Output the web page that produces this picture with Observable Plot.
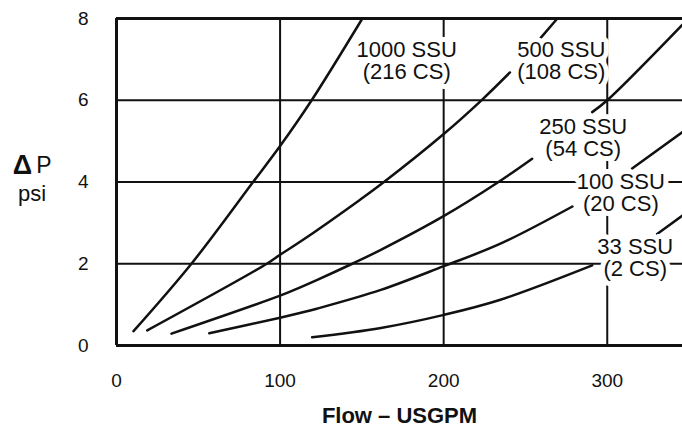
<!DOCTYPE html>
<html>
<head>
<meta charset="utf-8">
<script src="https://cdn.jsdelivr.net/npm/d3@7"></script>
<script src="https://cdn.jsdelivr.net/npm/@observablehq/plot@0.6"></script>
<style>
  html, body { margin: 0; padding: 0; background: #fff; }
  #chart svg { display: block; }
</style>
</head>
<body>
<div id="chart"></div>
<script>
// ---- data ----
const series = ["1000 SSU", "500 SSU", "250 SSU", "100 SSU", "33 SSU"];
const centistokes = ["(216 CS)", "(108 CS)", "(54 CS)", "(20 CS)", "(2 CS)"];

// Flow (USGPM) and pressure drop (psi) along each curve; NaN marks where a label hides the curve
const flow1000 = [10.4, 45.8, 83.5, 100, 119.3, 150.3];
const dp1000   = [0.35, 2.0, 4.0, 4.88, 6.0, 8.0];

const flow500 = [18.8, 91.9, 100, 112.7, 148.3, 163.5, 200.2, 222.6, 240.5, 249, 258.8, 269.5];
const dp500   = [0.37, 2.0, 2.22, 2.55, 3.55, 4.0, 5.18, 5.98, 6.68, NaN, 7.50, 8.0];

const flow250 = [33.6, 100, 112.7, 122.4, 144.1, 161.6, 200.2, 233.5, 254.1, 270, 290.8, 300, 346];
const dp250   = [0.29, 1.22, 1.43, 1.60, 2.0, 2.34, 3.17, 4.0, 4.57, NaN, 5.71, 6.0, 7.85];

const flow100 = [56.7, 100, 112.7, 122.4, 161.6, 200, 234.7, 278.7, 295, 315.2, 346];
const dp100   = [0.30, 0.68, 0.80, 0.90, 1.36, 1.94, 2.49, 3.40, NaN, 4.33, 5.22];

const flow33 = [119.6, 161.6, 200.2, 234.7, 290.8, 310, 330.5, 346];
const dp33   = [0.20, 0.43, 0.75, 1.12, 1.96, NaN, 2.73, 3.18];

// label anchor (centre of the two-line label) in data units
const labelFlow = [177.4, 271.9, 285.3, 308.3, 317.1];
const labelDp   = [6.96, 6.96, 5.08, 3.74, 2.13];

const flowTicks = [0, 100, 200, 300];
const dpTicks = [0, 2, 4, 6, 8];
const flowDomain = [0, 346];
const dpDomain = [0, 8];

const xTitle = ["Flow – USGPM"];
const yTitleDelta = ["Δ"];
const yTitleP = ["P"];
const yTitleUnit = ["psi"];

// ---- tables built from the arrays ----
const curveFlows = [flow1000, flow500, flow250, flow100, flow33];
const curveDps = [dp1000, dp500, dp250, dp100, dp33];
const rows = [];
series.forEach((s, i) => {
  curveFlows[i].forEach((f, j) => rows.push({series: s, flow: f, dp: curveDps[i][j]}));
});
const labels = series.map((s, i) => ({text: s + "\n" + centistokes[i], flow: labelFlow[i], dp: labelDp[i]}));

const FONT = "'Liberation Sans', Arial, Helvetica, sans-serif";

const chart = Plot.plot({
  width: 682,
  height: 427,
  marginLeft: 116,
  marginRight: 0,
  marginTop: 18,
  marginBottom: 82,
  style: {fontFamily: FONT, fontSize: "19px", color: "#111", background: "#fff"},
  x: {domain: flowDomain, ticks: flowTicks, tickSize: 0, tickPadding: 28, label: null},
  y: {domain: dpDomain, ticks: dpTicks, tickSize: 0, tickPadding: 28, label: null},
  marks: [
    // grid
    Plot.ruleX(flowTicks.filter(d => d > 0), {stroke: "#111", strokeWidth: 2}),
    Plot.ruleY(dpTicks.filter(d => d > 0 && d < 8), {stroke: "#111", strokeWidth: 2}),
    // frame (left, bottom, top)
    Plot.ruleX([flowDomain[0]], {stroke: "#111", strokeWidth: 3}),
    Plot.ruleY([dpDomain[0], dpDomain[1]], {stroke: "#111", strokeWidth: 3}),
    // viscosity curves
    Plot.line(rows, {x: "flow", y: "dp", z: "series", curve: "catmull-rom", stroke: "#111", strokeWidth: 2.5}),
    // curve labels with white knockout
    Plot.text(labels, {
      x: "flow", y: "dp", text: "text",
      fontSize: 22, lineHeight: 1, fill: "#111",
      stroke: "white", strokeWidth: 10, strokeLinejoin: "round", paintOrder: "stroke",
      textAnchor: "middle", lineAnchor: "middle"
    }),
    // axis titles
    Plot.text(xTitle, {text: d => d, frameAnchor: "bottom", lineAnchor: "bottom", dy: 77, fontSize: 22, fontWeight: "bold", fill: "#111"}),
    Plot.text(yTitleDelta, {text: d => d, frameAnchor: "left", lineAnchor: "bottom", textAnchor: "middle", dx: -94, dy: -8, fontSize: 27, fontWeight: "bold", fill: "#111"}),
    Plot.text(yTitleP, {text: d => d, frameAnchor: "left", lineAnchor: "bottom", textAnchor: "middle", dx: -72.5, dy: -9, fontSize: 23, fill: "#111"}),
    Plot.text(yTitleUnit, {text: d => d, frameAnchor: "left", lineAnchor: "bottom", textAnchor: "middle", dx: -84.5, dy: 18.5, fontSize: 22, fill: "#111"})
  ]
});
document.getElementById("chart").appendChild(chart);
</script>
</body>
</html>
